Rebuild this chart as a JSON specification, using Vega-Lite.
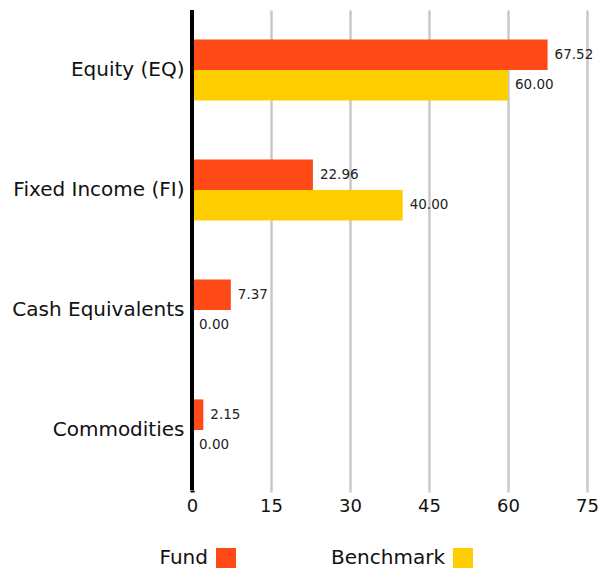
{
  "$schema": "https://vega.github.io/schema/vega-lite/v6.json",
  "autosize": {"type": "none"},
  "padding": {"left": 192, "top": 10, "right": 11, "bottom": 82},
  "width": 395,
  "height": 480,
  "config": {
    "font": "DejaVu Sans",
    "view": {"stroke": null}
  },
  "data": {
    "values": [
      {"category": "Equity (EQ)", "series": "Fund", "value": 67.52},
      {"category": "Equity (EQ)", "series": "Benchmark", "value": 60.00},
      {"category": "Fixed Income (FI)", "series": "Fund", "value": 22.96},
      {"category": "Fixed Income (FI)", "series": "Benchmark", "value": 40.00},
      {"category": "Cash Equivalents", "series": "Fund", "value": 7.37},
      {"category": "Cash Equivalents", "series": "Benchmark", "value": 0.00},
      {"category": "Commodities", "series": "Fund", "value": 2.15},
      {"category": "Commodities", "series": "Benchmark", "value": 0.00}
    ]
  },
  "encoding": {
    "y": {
      "field": "category",
      "type": "nominal",
      "sort": ["Equity (EQ)", "Fixed Income (FI)", "Cash Equivalents", "Commodities"],
      "scale": {"paddingInner": 0.49, "paddingOuter": 0.245},
      "axis": {
        "title": null,
        "domain": false,
        "ticks": false,
        "labelFontSize": 20,
        "labelColor": "#111111",
        "labelPadding": 8,
        "labelLimit": 250
      }
    },
    "yOffset": {
      "field": "series",
      "type": "nominal",
      "sort": ["Fund", "Benchmark"],
      "scale": {"paddingInner": 0, "paddingOuter": 0}
    },
    "x": {
      "field": "value",
      "type": "quantitative",
      "scale": {"domain": [0, 75]},
      "axis": {
        "title": null,
        "values": [0, 15, 30, 45, 60, 75],
        "domain": false,
        "gridColor": "#c8c8c8",
        "gridWidth": 2.5,
        "tickColor": {"condition": {"test": "datum.value === 0", "value": "#000000"}, "value": "#c8c8c8"},
        "tickWidth": {"condition": {"test": "datum.value === 0", "value": 4}, "value": 2.5},
        "tickSize": 2,
        "labelFontSize": 18,
        "labelColor": "#111111",
        "labelPadding": 5,
        "labelFlush": false
      }
    }
  },
  "layer": [
    {
      "mark": {"type": "bar"},
      "encoding": {
        "color": {
          "field": "series",
          "type": "nominal",
          "sort": ["Fund", "Benchmark"],
          "scale": {"domain": ["Fund", "Benchmark"], "range": ["#ff4a17", "#ffce00"]},
          "legend": {
            "title": null,
            "orient": "bottom",
            "direction": "horizontal",
            "offset": 33,
            "symbolType": "square",
            "symbolSize": 400,
            "symbolStrokeWidth": 0,
            "symbolOffset": 24,
            "labelAlign": "right",
            "labelOffset": -28,
            "labelFontSize": 20,
            "labelColor": "#111111",
            "columnPadding": 95,
            "labelLimit": 300
          }
        }
      }
    },
    {
      "mark": {"type": "text", "align": "left", "dx": 7, "fontSize": 13.5, "color": "#222222"},
      "encoding": {
        "text": {"field": "value", "type": "quantitative", "format": ".2f"}
      }
    },
    {
      "mark": {"type": "rule", "color": "#000000", "strokeWidth": 4},
      "encoding": {
        "x": {"datum": 0, "type": "quantitative"},
        "y": null,
        "yOffset": null
      }
    }
  ]
}
